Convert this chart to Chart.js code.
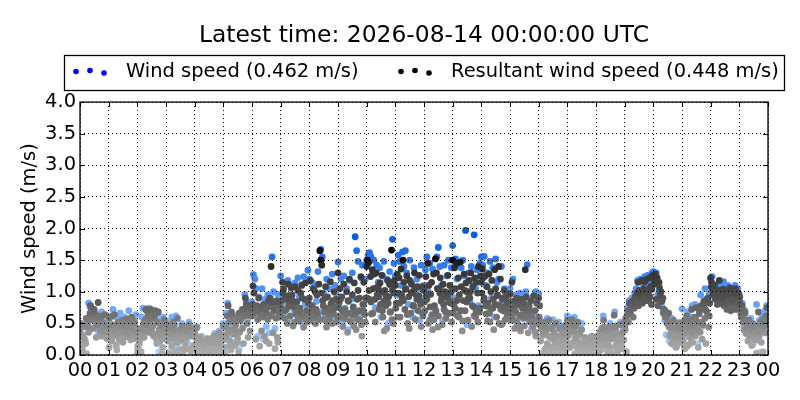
<!DOCTYPE html>
<html>
<head>
<meta charset="utf-8">
<title>Wind speed</title>
<script src="https://cdn.jsdelivr.net/npm/chart.js@4/dist/chart.umd.min.js"></script>
<style>
  html, body { margin: 0; padding: 0; background: #fff; }
  canvas { display: block; }
</style>
</head>
<body>
<canvas id="myChart" width="800" height="400"></canvas>
<script>
var hourLabels = ["00","01","02","03","04","05","06","07","08","09","10","11","12","13","14","15","16","17","18","19","20","21","22","23","00"];
var speedTicks = ["0.0","0.5","1.0","1.5","2.0","2.5","3.0","3.5","4.0"];

var titleText = "Latest time: 2026-08-14 00:00:00 UTC";
var windLabel = "Wind speed (0.462 m/s)";
var resultantLabel = "Resultant wind speed (0.448 m/s)";

// one line per hour, one reading every 3 minutes
var windSpeed = [
  0.40,0.14,0.32,0.48,0.22,0.55,0.82,0.76,0.64,0.58,0.72,0.46,0.60,0.36,0.50,0.68,0.42,0.54,0.30,0.48,
  0.62,0.40,0.24,0.72,0.45,0.18,0.58,0.35,0.66,0.22,0.50,0.60,0.32,0.54,0.70,0.38,0.28,0.56,0.46,0.64,
  0.08,0.22,0.40,0.60,0.74,0.52,0.72,0.44,0.74,0.62,0.34,0.70,0.50,0.28,0.66,0.05,0.46,0.58,0.60,0.38,
  0.54,0.30,0.05,0.44,0.60,0.24,0.48,0.62,0.12,0.40,0.28,0.50,0.06,0.36,0.44,0.20,0.52,0.10,0.34,0.42,
  0.44,0.28,0.08,0.24,0.12,0.30,0.05,0.18,0.26,0.08,0.20,0.03,0.26,0.14,0.34,0.06,0.28,0.38,0.12,0.32,
  0.50,0.10,0.66,0.82,0.30,0.45,0.64,0.20,0.52,0.62,0.34,0.10,0.58,0.72,0.46,0.96,0.86,0.56,0.70,0.76,
  0.84,1.27,1.20,1.05,0.30,0.92,0.62,1.05,0.25,0.88,0.45,0.95,0.35,0.90,1.55,1.00,0.42,0.78,0.96,0.70,
  1.25,0.96,0.66,1.15,0.82,1.18,0.58,0.90,1.10,0.72,1.14,0.64,1.22,0.92,0.52,1.12,1.24,0.80,0.60,1.34,
  1.20,0.70,1.15,0.60,1.10,0.85,1.32,0.68,1.67,1.55,0.98,0.62,1.20,0.50,1.05,0.80,1.28,0.60,1.10,0.95,
  1.47,0.92,1.20,0.52,1.25,0.74,1.05,0.40,1.18,0.88,1.30,0.70,1.87,1.65,1.48,0.62,1.22,1.42,0.80,1.20,
  1.50,1.58,1.62,1.56,1.30,1.50,0.75,1.42,1.15,1.38,0.60,1.25,1.48,0.95,1.20,0.50,1.32,1.10,1.83,1.45,
  1.25,0.95,1.58,1.48,1.10,1.63,1.40,1.65,1.30,0.80,1.50,1.15,0.60,1.38,0.72,1.20,1.05,0.55,1.42,0.90,
  1.10,1.35,1.55,1.00,1.45,0.62,1.36,1.30,0.70,1.55,1.70,1.40,1.10,0.55,1.42,0.85,1.25,1.50,0.92,1.38,
  1.73,0.90,1.52,1.20,1.45,0.70,1.38,1.50,1.25,1.97,0.48,1.30,0.85,1.40,1.15,1.90,1.05,1.35,0.78,1.45,
  1.55,1.42,1.56,1.10,1.30,0.75,1.48,0.90,1.38,0.60,1.52,1.15,1.20,0.80,1.40,0.50,1.05,0.95,0.68,1.00,
  1.05,0.65,1.20,0.82,0.95,0.48,0.78,0.98,0.60,0.90,0.72,1.00,1.43,0.55,0.85,0.42,0.92,0.66,1.00,0.88,
  0.97,0.55,0.30,0.50,0.08,0.38,0.58,0.14,0.44,0.05,0.56,0.24,0.40,0.10,0.52,0.20,0.32,0.46,0.06,0.28,
  0.62,0.35,0.58,0.16,0.48,0.60,0.26,0.42,0.05,0.30,0.50,0.14,0.05,0.22,0.08,0.28,0.02,0.14,0.06,0.20,
  0.12,0.30,0.05,0.38,0.22,0.62,0.35,0.42,0.16,0.28,0.50,0.08,0.36,0.68,0.44,0.18,0.30,0.52,0.12,0.40,
  0.50,0.06,0.75,0.86,0.70,0.90,0.80,0.98,1.05,1.18,1.00,1.20,0.92,1.12,1.24,1.06,1.26,0.95,1.15,1.30,
  1.32,1.20,1.30,0.95,1.00,0.90,0.76,0.70,0.55,0.32,0.52,0.22,0.44,0.58,0.30,0.14,0.48,0.32,0.52,0.40,
  0.73,0.25,0.56,0.12,0.68,0.40,0.60,0.78,0.35,0.80,0.52,0.18,0.70,0.95,0.45,0.72,1.05,0.88,0.62,0.98,
  1.20,1.24,1.10,1.00,0.92,1.12,1.05,0.90,1.08,1.16,0.98,0.82,1.10,0.95,1.06,0.78,1.02,1.10,0.84,1.05,
  0.95,0.65,0.82,0.45,0.70,0.38,0.52,0.26,0.58,0.35,0.18,0.48,0.80,0.25,0.55,0.05,0.62,0.40,0.70,0.78
];

// one line per hour, one reading every 2 minutes
var resultantEven = [
  0.38,0.12,0.05,0.30,0.22,0.45,0.18,0.02,0.52,0.36,0.60,0.78,0.74,0.70,0.42,0.55,0.65,0.28,0.48,0.83,0.62,0.38,0.58,0.34,0.44,0.50,0.64,0.40,0.26,0.46,
  0.40,0.58,0.35,0.22,0.48,0.30,0.64,0.42,0.15,0.36,0.52,0.26,0.44,0.33,0.55,0.20,0.38,0.47,0.29,0.57,0.41,0.34,0.50,0.24,0.60,0.45,0.31,0.53,0.37,0.43,
  0.02,0.10,0.18,0.25,0.05,0.34,0.44,0.28,0.55,0.72,0.70,0.62,0.36,0.50,0.72,0.66,0.45,0.30,0.58,0.70,0.25,0.52,0.68,0.40,0.22,0.47,0.02,0.33,0.56,0.42,
  0.50,0.36,0.22,0.02,0.44,0.30,0.14,0.52,0.26,0.05,0.38,0.20,0.58,0.32,0.08,0.40,0.24,0.46,0.03,0.34,0.18,0.42,0.28,0.10,0.48,0.36,0.06,0.30,0.39,0.15,
  0.38,0.42,0.24,0.12,0.03,0.20,0.28,0.08,0.16,0.02,0.22,0.14,0.05,0.18,0.26,0.10,0.01,0.15,0.22,0.06,0.30,0.13,0.02,0.24,0.33,0.09,0.35,0.18,0.04,0.30,
  0.45,0.12,0.02,0.30,0.62,0.78,0.52,0.22,0.08,0.40,0.60,0.33,0.15,0.48,0.58,0.26,0.05,0.36,0.55,0.65,0.42,0.18,0.70,0.90,0.80,0.50,0.28,0.63,0.38,0.68,
  0.62,1.09,0.98,0.72,0.25,0.78,0.56,0.90,0.14,0.72,0.38,0.60,0.80,0.30,0.68,0.22,0.75,0.85,0.18,0.64,1.40,0.82,0.35,0.70,0.10,0.58,0.86,0.20,0.66,0.78,
  0.68,0.86,1.15,1.04,0.58,0.92,0.72,0.50,1.12,0.80,0.62,1.06,0.95,0.46,0.76,1.08,0.66,0.84,1.02,0.54,0.74,0.98,1.10,0.60,0.44,0.88,1.14,0.70,0.52,0.82,
  0.90,1.18,0.64,0.78,1.05,0.52,1.00,0.72,0.95,0.60,1.12,1.65,1.50,1.42,0.86,0.56,0.68,1.08,0.44,0.92,0.74,0.58,1.16,0.82,0.50,0.66,1.00,0.76,0.88,0.62,
  1.30,0.82,1.05,0.60,0.92,0.45,1.12,0.72,0.58,1.00,0.36,0.85,1.20,0.66,0.52,0.95,0.76,1.14,0.62,0.40,0.88,1.02,0.70,0.55,1.24,0.30,0.80,1.15,0.64,0.90,
  1.40,1.50,1.46,0.88,1.24,0.65,1.35,1.05,1.28,0.52,1.30,0.95,1.08,0.72,1.14,1.00,1.26,0.60,0.85,1.02,0.78,0.42,1.18,0.92,1.12,0.68,1.66,1.02,0.50,1.18,
  1.10,0.82,1.28,0.98,1.22,0.60,1.36,0.90,1.50,1.15,0.72,1.05,1.25,0.50,0.92,1.18,0.66,1.12,1.00,0.78,1.30,0.56,0.94,1.08,0.70,1.26,0.85,0.45,1.08,0.62,
  1.02,0.70,1.24,0.88,1.45,1.10,0.55,0.96,1.15,0.40,1.28,0.78,1.52,1.30,1.05,0.62,1.05,1.22,0.85,0.48,1.12,0.72,1.00,0.58,0.92,1.26,0.66,1.10,0.82,0.52,
  1.50,0.80,1.38,1.05,1.45,0.62,1.22,0.95,1.47,1.08,0.38,0.86,1.28,0.70,1.14,1.00,0.55,1.18,0.90,1.30,0.45,1.08,0.76,1.22,0.60,1.15,0.98,1.40,0.68,1.25,
  1.15,1.36,1.22,0.90,1.25,0.65,1.08,0.82,1.28,0.52,1.00,1.18,0.74,0.40,1.35,1.05,0.60,0.95,1.40,0.78,1.20,0.48,0.88,0.70,1.02,0.56,0.92,0.64,0.84,0.75,
  0.96,0.55,1.15,0.72,0.85,0.42,0.68,0.90,0.50,0.80,0.62,0.38,0.88,0.74,0.58,0.46,1.35,0.92,0.66,0.35,0.78,0.52,0.86,0.60,0.44,0.94,0.70,0.30,0.82,0.56,
  0.90,0.78,0.22,0.48,0.02,0.32,0.52,0.10,0.40,0.18,0.05,0.55,0.28,0.12,0.44,0.02,0.35,0.20,0.50,0.08,0.30,0.15,0.42,0.03,0.25,0.38,0.10,0.46,0.06,0.22,
  0.55,0.30,0.50,0.12,0.42,0.56,0.20,0.36,0.02,0.46,0.25,0.52,0.08,0.34,0.15,0.40,0.02,0.10,0.28,0.05,0.18,0.01,0.10,0.22,0.04,0.12,0.30,0.02,0.08,0.15,
  0.10,0.28,0.02,0.18,0.35,0.08,0.42,0.25,0.55,0.30,0.14,0.38,0.05,0.22,0.45,0.12,0.32,0.02,0.26,0.63,0.40,0.16,0.34,0.06,0.20,0.48,0.30,0.10,0.36,0.24,
  0.45,0.58,0.05,0.70,0.52,0.82,0.66,0.78,0.85,0.60,0.74,0.92,0.88,0.98,1.15,1.02,0.90,0.96,1.18,0.84,1.05,1.16,0.94,1.20,1.00,0.86,1.22,1.08,0.80,1.25,
  1.26,1.12,1.28,0.88,1.22,0.78,1.15,0.95,1.00,0.85,0.90,0.72,0.70,0.68,0.62,0.52,0.66,0.30,0.48,0.18,0.40,0.55,0.25,0.35,0.12,0.44,0.28,0.50,0.20,0.38,
  0.42,0.22,0.52,0.10,0.35,0.62,0.15,0.46,0.28,0.55,0.72,0.20,0.40,0.60,0.30,0.75,0.50,0.12,0.65,0.36,0.78,0.25,0.48,0.85,0.58,0.18,0.68,0.90,0.44,0.82,
  1.22,1.15,1.05,0.95,1.10,0.88,1.00,0.80,1.02,1.18,0.92,0.84,0.98,1.04,0.78,0.90,1.00,0.72,0.86,0.96,1.06,0.70,0.82,1.02,0.94,0.76,1.05,0.88,0.74,0.98,
  0.85,0.72,0.60,0.78,0.52,0.40,0.66,0.34,0.48,0.22,0.55,0.30,0.42,0.15,0.50,0.36,0.25,0.45,0.03,0.38,0.68,0.30,0.52,0.20,0.44,0.05,0.58,0.35,0.62,0.75
];

// one line per hour, one reading every 4 minutes, in between the others
var resultantOdd = [
  0.50,0.10,0.26,0.58,0.46,0.66,0.56,0.72,0.52,0.60,0.48,0.30,0.42,0.36,0.46,
  0.12,0.28,0.62,0.38,0.08,0.34,0.25,0.52,0.48,0.36,0.44,0.54,0.42,0.26,0.39,
  0.14,0.30,0.42,0.50,0.38,0.48,0.58,0.42,0.34,0.64,0.18,0.36,0.32,0.12,0.26,
  0.42,0.46,0.34,0.40,0.48,0.30,0.20,0.02,0.26,0.10,0.42,0.38,0.44,0.34,0.08,
  0.32,0.44,0.26,0.02,0.10,0.16,0.20,0.08,0.25,0.19,0.11,0.21,0.29,0.23,0.31,
  0.24,0.44,0.35,0.16,0.68,0.54,0.40,0.20,0.66,0.58,0.72,0.62,0.76,0.66,0.74,
  0.80,0.66,0.74,0.70,0.60,0.76,0.64,0.72,0.56,0.90,0.62,0.74,0.84,0.28,0.60,
  0.74,0.98,0.70,0.88,0.94,0.78,0.86,0.52,0.64,0.58,0.68,0.90,0.62,0.56,0.70,
  0.58,0.70,0.62,0.50,0.66,0.56,0.98,0.78,0.90,0.54,0.64,0.72,0.86,0.74,0.52,
  0.76,0.88,0.70,0.58,0.66,0.86,0.54,0.64,0.46,0.68,0.56,0.90,0.48,0.70,0.52,
  0.90,1.02,0.84,0.66,0.88,1.06,0.92,0.80,0.70,0.38,0.94,0.82,0.68,0.56,0.98,
  0.74,0.60,0.82,0.96,0.86,1.04,0.64,0.42,0.98,0.78,1.06,0.88,0.94,0.80,0.66,
  0.84,0.94,0.50,0.76,0.64,0.56,0.70,0.44,0.98,0.90,0.80,0.68,0.92,0.84,1.00,
  0.66,0.74,0.86,0.60,0.70,0.54,1.02,0.84,0.90,1.00,0.78,0.62,0.68,0.52,0.74,
  0.98,0.86,0.78,0.54,0.66,0.74,0.88,0.80,0.94,0.50,0.72,0.90,0.76,0.84,0.70,
  0.74,0.62,0.78,0.54,0.88,0.44,0.64,0.82,0.60,0.74,0.70,0.62,0.54,0.36,0.50,
  0.60,0.44,0.38,0.46,0.02,0.30,0.42,0.26,0.04,0.18,0.12,0.02,0.20,0.34,0.14,
  0.44,0.38,0.16,0.48,0.28,0.12,0.20,0.04,0.14,0.22,0.12,0.18,0.26,0.14,0.20,
  0.20,0.24,0.30,0.16,0.44,0.26,0.18,0.28,0.40,0.34,0.46,0.10,0.24,0.16,0.50,
  0.40,0.62,0.68,0.72,0.80,0.86,0.82,0.78,1.00,0.82,0.90,0.86,0.98,0.92,1.04,
  1.20,1.24,1.16,1.06,0.86,0.66,0.60,0.50,0.44,0.34,0.22,0.30,0.16,0.48,0.44,
  0.30,0.14,0.56,0.44,0.18,0.36,0.46,0.56,0.40,0.72,0.52,0.80,0.72,0.88,0.62,
  1.08,0.98,0.90,0.94,0.96,0.82,0.90,0.94,0.84,0.80,0.74,0.88,0.98,0.72,0.82,
  0.92,0.66,0.70,0.56,0.44,0.50,0.40,0.46,0.34,0.24,0.38,0.48,0.56,0.46,0.54
];

// gray of a resultant dot at these speeds
var grayStops = [0, 0.3, 0.5, 0.8, 1.0, 1.25, 1.43, 1.5, 2];
var grayLevels = [175, 152, 130, 92, 72, 58, 42, 14, 0];

var fontName = "'DejaVu Sans'";

function toPoints(values, perHour, offset) {
  return values.map(function (v, i) {
    return { x: (i + offset) / perHour, y: v };
  });
}

// colour goes darker with the speed, like the colormap of the original
function blueFor(v) {
  var t = Math.min(v / 2, 1);
  return "rgb(" + Math.round(170 - 170 * t) + "," + Math.round(215 - 130 * t) + "," + Math.round(255 - 30 * t * t) + ")";
}

function grayFor(v) {
  var i = 1;
  while (i < grayStops.length - 1 && v > grayStops[i]) i++;
  var t = (v - grayStops[i - 1]) / (grayStops[i] - grayStops[i - 1]);
  var g = Math.round(grayLevels[i - 1] + (grayLevels[i] - grayLevels[i - 1]) * t);
  return "rgb(" + g + "," + g + "," + g + ")";
}

function legendEntry(ctx, label, color, textX) {
  ctx.fillStyle = color;
  [[-50, 0], [-36, -1], [-22, 1.5]].forEach(function (d) {
    ctx.beginPath();
    ctx.arc(textX + d[0], 71.5 + d[1], 2.8, 0, Math.PI * 2);
    ctx.fill();
  });
  ctx.fillStyle = "#000";
  ctx.fillText(label, textX, 71.5);
}

var frame = {
  id: "frame",
  afterLayout: function (chart) {
    // title is centred on the plot, not on the page
    chart.titleBlock.left = 80;
    chart.titleBlock.right = 768;
  },
  beforeDraw: function (chart) {
    var ctx = chart.ctx;
    ctx.save();
    ctx.strokeStyle = "#000";
    ctx.lineWidth = 1.3;
    ctx.strokeRect(64.5, 55.5, 720, 35);
    ctx.font = "19.44px " + fontName;
    ctx.textBaseline = "middle";
    legendEntry(ctx, windLabel, "#00f", 126);
    legendEntry(ctx, resultantLabel, "#000", 451);
    ctx.restore();
  },
  afterDraw: function (chart) {
    var ctx = chart.ctx;
    var a = chart.chartArea;
    var x = chart.scales.x;
    var y = chart.scales.y;
    ctx.save();
    ctx.strokeStyle = "#000";
    ctx.lineWidth = 1;
    ctx.beginPath();
    x.ticks.forEach(function (t) {
      var px = Math.round(x.getPixelForValue(t.value)) + 0.5;
      ctx.moveTo(px, a.top);
      ctx.lineTo(px, a.top + 5);
      ctx.moveTo(px, a.bottom);
      ctx.lineTo(px, a.bottom - 5);
    });
    y.ticks.forEach(function (t) {
      var py = Math.round(y.getPixelForValue(t.value)) + 0.5;
      ctx.moveTo(a.left, py);
      ctx.lineTo(a.left + 5, py);
      ctx.moveTo(a.right, py);
      ctx.lineTo(a.right - 5, py);
    });
    ctx.stroke();
    ctx.lineWidth = 1.3;
    ctx.strokeRect(a.left, a.top, a.right - a.left, a.bottom - a.top);
    ctx.restore();
  }
};

var data = {
  datasets: [
    {
      label: windLabel,
      order: 2,
      data: toPoints(windSpeed, 20, 0),
      pointRadius: 3.4,
      pointBorderWidth: 0,
      backgroundColor: function (c) { return blueFor(c.raw.y); },
    },
    {
      label: resultantLabel,
      order: 1,
      data: toPoints(resultantEven, 30, 0).concat(toPoints(resultantOdd, 15, 0.25)),
      pointRadius: 3.4,
      pointBorderWidth: 0,
      backgroundColor: function (c) { return grayFor(c.raw.y); },
    },
  ],
};

var config = {
  type: "scatter",
  data: data,
  plugins: [frame],
  options: {
    responsive: false,
    animation: false,
    devicePixelRatio: 1,
    layout: { padding: { top: 8, right: 32, bottom: 0, left: 0 } },
    plugins: {
      tooltip: { enabled: false },
      legend: { display: false },
      title: {
        display: true,
        text: titleText,
        color: "#000",
        font: { family: fontName, size: 23.4, weight: "normal" },
        padding: { top: 14, bottom: 52 },
      },
    },
    scales: {
      x: {
        type: "linear",
        min: 0,
        max: 24,
        afterFit: function (s) { s.height = 45; },
        afterBuildTicks: function (s) {
          s.ticks = hourLabels.map(function (h, i) { return { value: i }; });
        },
        grid: { color: "#000", lineWidth: 1, z: 1, drawTicks: false },
        border: { display: false, dash: [1, 3] },
        ticks: {
          color: "#000",
          autoSkip: false,
          maxRotation: 0,
          padding: 4,
          font: { family: fontName, size: 19.44 },
          callback: function (v, i) { return hourLabels[i]; },
        },
      },
      y: {
        type: "linear",
        min: 0,
        max: 4,
        afterFit: function (s) { s.width = 80; },
        afterBuildTicks: function (s) {
          s.ticks = speedTicks.map(function (t) { return { value: Number(t) }; });
        },
        grid: { color: "#000", lineWidth: 1, z: 1, drawTicks: false },
        border: { display: false, dash: [1, 3] },
        title: {
          display: true,
          text: "Wind speed (m/s)",
          color: "#000",
          font: { family: fontName, size: 19.44 },
          padding: { top: 18, bottom: 0 },
        },
        ticks: {
          color: "#000",
          padding: 4,
          font: { family: fontName, size: 19.44 },
          callback: function (v, i) { return speedTicks[i]; },
        },
      },
    },
  },
};

var myChart = new Chart(document.getElementById("myChart"), config);
</script>
</body>
</html>
